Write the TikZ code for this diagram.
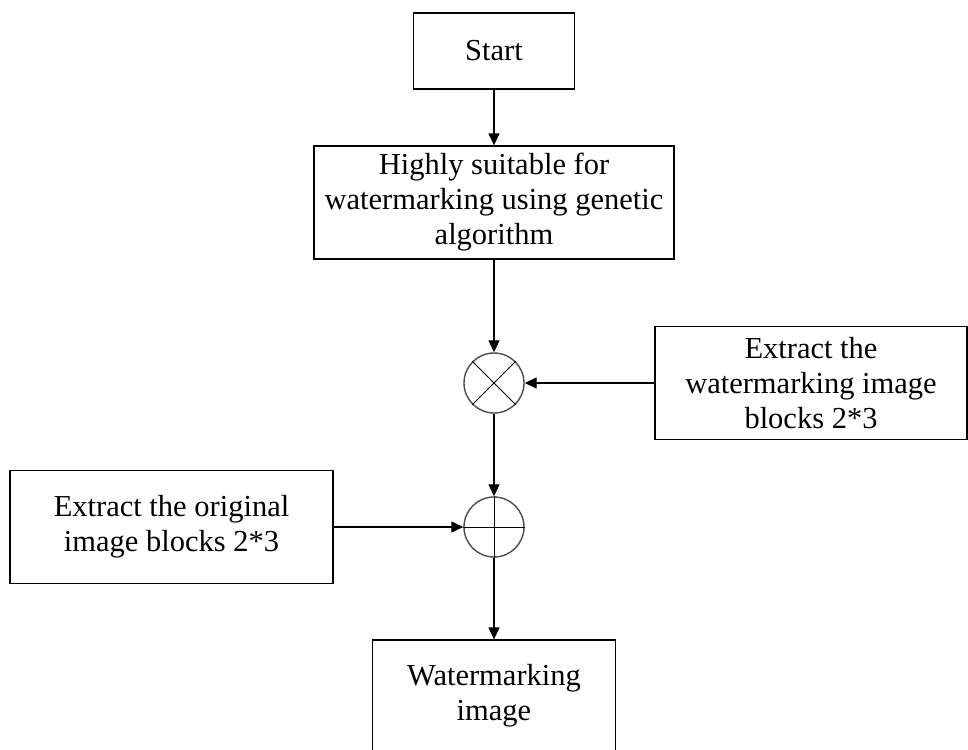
\documentclass[tikz,border=0pt]{standalone}
\usepackage{fontspec}
\setmainfont{Liberation Serif}
\usetikzlibrary{arrows.meta}
\begin{document}
\begin{tikzpicture}[x=1pt,y=-1pt,
  box/.style={draw, line width=1.3pt, align=center, inner sep=0pt, font=\fontsize{30.5}{35}\selectfont},
  op/.style={draw=black!70, line width=1.4pt, circle, minimum size=60pt, inner sep=0pt},
  arr/.style={line width=1.3pt, -{Triangle[length=12pt,width=11pt]}},
  seg/.style={line width=1pt}]
\useasboundingbox (0,0) rectangle (968,749);
\clip (0,0) rectangle (968,749);
\node[box, minimum width=161pt, minimum height=76pt] (start) at (494,51) {Start};
\node[box, minimum width=360pt, minimum height=113pt] (ga) at (494,202.5) {Highly suitable for\\watermarking using genetic\\algorithm};
\node[op] (mul) at (494,383) {};
\node[op] (add) at (494,527) {};
\node[box, minimum width=312pt, minimum height=113pt] (wm) at (811,383) {Extract the\\watermarking image\\blocks 2*3};
\node[box, minimum width=323pt, minimum height=113pt] (orig) at (171.5,527) {Extract the original\\image blocks 2*3};
\node[box, minimum width=243pt, minimum height=112pt] (out) at (494,696) {Watermarking\\image};
\draw[seg] (mul.north west) -- (mul.south east);
\draw[seg] (mul.north east) -- (mul.south west);
\draw[seg] (add.north) -- (add.south);
\draw[seg] (add.west) -- (add.east);
\draw[arr] (start.south) -- (ga.north);
\draw[arr] (ga.south) -- (mul.north);
\draw[arr] (wm.west) -- (mul.east);
\draw[arr] (mul.south) -- (add.north);
\draw[arr] (orig.east) -- (add.west);
\draw[arr] (add.south) -- (out.north);
\end{tikzpicture}
\end{document}
